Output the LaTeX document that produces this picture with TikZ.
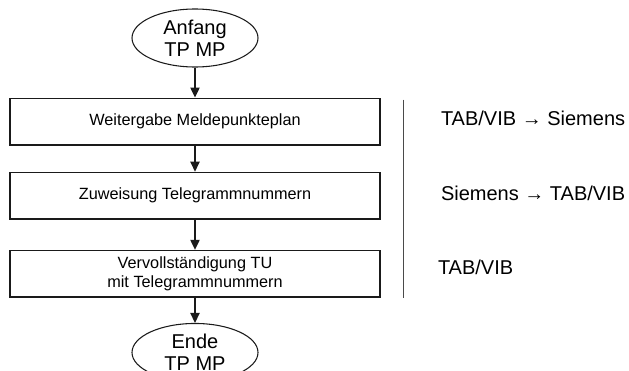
\documentclass[tikz,border=0pt]{standalone}
\usepackage{fontspec}
\setmainfont{Liberation Sans}
\usepackage{xcolor}
\definecolor{flowline}{HTML}{1A1A1A}
\definecolor{flowgrey}{HTML}{4A4A4A}
\usepackage{tikz}
\usetikzlibrary{arrows.meta,positioning,shapes.geometric}

\begin{document}
\begin{tikzpicture}[
  term/.style={draw=flowline, ellipse, line width=0.8pt, inner sep=0pt,
               minimum width=94.5pt, minimum height=43.5pt, align=center,
               font=\fontsize{15}{16.5}\selectfont},
  box/.style={draw=flowline, line width=1.1pt, minimum width=277.5pt,
              minimum height=35pt, align=center, inner sep=0pt,
              font=\fontsize{12.2}{13.8}\selectfont},
  role/.style={inner sep=0pt, font=\fontsize{15}{17}\selectfont},
  arr/.style={-{Triangle[length=7.5pt,width=7pt]}, line width=0.9pt, color=flowline},
  node distance=22.5pt
]
  \clip (0,0) rectangle (471.75pt,-278.25pt);
  \node[term] (start) at (146.25pt,-28.5pt) {Anfang\\TP MP};
  \node[box, below=of start] (handover) {Weitergabe Meldepunkteplan};
  \node[box, below=19.5pt of handover] (assign) {Zuweisung Telegrammnummern};
  \node[box, below=of assign] (complete) {Vervollständigung TU\\mit Telegrammnummern};
  \node[term, below=18.75pt of complete] (finish) {Ende\\TP MP};

  \coordinate[right=17pt of handover.north east, yshift=-1.5pt] (septop);
  \coordinate[right=17pt of complete.south east] (sepbot);
  \draw[flowgrey, line width=1pt] (septop) -- (sepbot);

  \node[role, right=45pt of handover, yshift=2.25pt] (role1) {TAB/VIB → Siemens};
  \node[role, right=45pt of assign, yshift=1.9pt] (role2) {Siemens → TAB/VIB};
  \node[role, right=42.75pt of complete, yshift=5.25pt] (role3) {TAB/VIB};

  \draw[arr] (start) -- (handover);
  \draw[arr] (handover) -- (assign);
  \draw[arr] (assign) -- (complete);
  \draw[arr] (complete) -- (finish);
\end{tikzpicture}
\end{document}
